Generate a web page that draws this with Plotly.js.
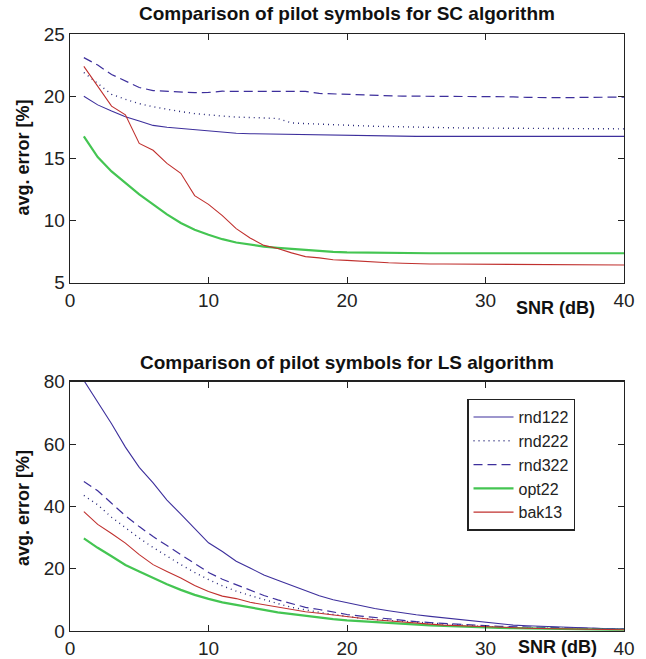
<!DOCTYPE html>
<html><head><meta charset="utf-8">
<script src="https://cdn.plot.ly/plotly-3.0.1.min.js"></script>
<style>html,body{margin:0;padding:0;background:#fff}</style>
</head><body>
<div id="chart" style="width:646px;height:659px"></div>
<script>
// SNR values (dB)
const snr = [1,2,3,4,5,6,7,8,9,10,11,12,13,14,15,16,17,18,19,20,21,22,23,24,25,26,27,28,29,30,31,32,33,34,35,36,37,38,39,40];
const seriesNames = ["rnd122","rnd222","rnd322","opt22","bak13"];

// SC algorithm - avg. error [%]
const rnd122_sc = [20.0,19.3,18.8,18.35,18.0,17.65,17.5,17.4,17.28,17.18,17.08,17.02,16.98,16.96,16.95,16.93,16.88,16.87,16.86,16.85,16.84,16.82,16.78,16.77,16.77,16.77,16.77,16.77,16.77,16.77,16.77,16.77,16.77,16.77,16.77,16.77,16.77,16.77,16.77,16.77];
const rnd222_sc = [21.9,21.0,20.15,19.75,19.4,19.15,18.93,18.76,18.6,18.48,18.4,18.32,18.26,18.25,18.2,17.85,17.8,17.74,17.7,17.65,17.62,17.58,17.55,17.52,17.5,17.48,17.46,17.45,17.44,17.43,17.42,17.41,17.4,17.38,17.37,17.37,17.37,17.37,17.37,17.37];
const rnd322_sc = [23.1,22.5,21.75,21.2,20.7,20.45,20.4,20.35,20.28,20.3,20.4,20.38,20.38,20.38,20.38,20.38,20.38,20.22,20.18,20.15,20.12,20.05,20.0,20.0,20.0,20.0,20.0,20.0,20.0,20.0,19.98,19.95,19.9,19.88,19.87,19.88,19.9,19.9,19.92,19.93];
const opt22_sc = [16.77,15.1,13.95,13.0,12.1,11.3,10.5,9.8,9.25,8.85,8.5,8.23,8.04,7.9,7.8,7.72,7.6,7.53,7.48,7.44,7.42,7.4,7.39,7.38,7.37,7.37,7.37,7.37,7.37,7.37,7.37,7.37,7.37,7.37,7.37,7.37,7.37,7.37,7.37,7.37];
const bak13_sc = [22.4,20.8,19.2,18.5,16.2,15.65,14.6,13.8,12.0,11.3,10.4,9.35,8.6,8.0,7.75,7.4,7.1,7.0,6.85,6.8,6.72,6.65,6.6,6.57,6.52,6.5,6.5,6.49,6.48,6.47,6.46,6.45,6.43,6.42,6.42,6.42,6.42,6.42,6.42,6.42];

// LS algorithm - avg. error [%]
const rnd122_ls = [80.4,73.5,66.5,59,52.5,47.5,42,37.5,33,28.3,25.5,22.4,20.2,18.0,16.3,14.6,12.8,11.3,10.0,9.0,8.0,7.2,6.5,5.8,5.2,4.7,4.2,3.8,3.3,2.8,2.3,1.9,1.7,1.5,1.3,1.1,0.9,0.8,0.7,0.7];
const rnd222_ls = [43.5,40.5,36.5,33,29.8,26.8,24,21.3,18.8,16.5,14.5,12.8,11.4,10.0,8.8,7.6,6.7,6.0,5.3,4.6,4.1,3.7,3.4,3.0,2.7,2.4,2.1,1.9,1.6,1.4,1.2,1.1,1.0,0.9,0.8,0.7,0.6,0.6,0.5,0.5];
const rnd322_ls = [48,45,41,37,33.5,30.3,27.4,24.5,21.5,18.8,16.6,14.8,13.0,11.4,10.0,8.7,7.6,6.9,6.1,5.3,4.8,4.3,3.9,3.4,3.0,2.7,2.4,2.2,1.9,1.7,1.5,1.4,1.2,1.1,1.0,0.9,0.8,0.7,0.6,0.6];
const opt22_ls = [29.7,26.7,24,21.2,19.1,17,15,13.2,11.6,10.3,9.2,8.4,7.5,6.8,6.0,5.4,4.9,4.3,3.8,3.4,3.1,2.8,2.5,2.3,2.0,1.8,1.6,1.4,1.3,1.1,1.0,0.9,0.8,0.7,0.6,0.6,0.5,0.5,0.4,0.4];
const bak13_ls = [38.3,34.2,31.3,28.2,24.5,21.3,19.1,17,14.6,12.7,11.2,10.4,9.2,8.4,7.7,6.9,6.2,5.7,5.1,4.6,4.1,3.6,3.2,2.9,2.5,2.2,1.9,1.7,1.5,1.3,1.1,1.0,0.9,0.8,0.7,0.6,0.6,0.5,0.5,0.4];

const titles = ["Comparison of pilot symbols for SC algorithm","Comparison of pilot symbols for LS algorithm"];
const xLabel = "SNR (dB)";
const yLabel = "avg. error [%]";

const styles = [
  {color:"#3d2f9c", width:1.1, dash:"solid"},
  {color:"#2a2a7a", width:1.4, dash:"1px,4px"},
  {color:"#3d2f9c", width:1.2, dash:"9px,5px"},
  {color:"#44c552", width:2.2, dash:"solid"},
  {color:"#c0302e", width:1.1, dash:"solid"}
];
const scSeries = [rnd122_sc, rnd222_sc, rnd322_sc, opt22_sc, bak13_sc];
const lsSeries = [rnd122_ls, rnd222_ls, rnd322_ls, opt22_ls, bak13_ls];

const traces = [];
scSeries.forEach((s,i)=>traces.push({x:snr,y:s,type:"scatter",mode:"lines",xaxis:"x",yaxis:"y",showlegend:false,line:styles[i],name:seriesNames[i]}));
lsSeries.forEach((s,i)=>traces.push({x:snr,y:s,type:"scatter",mode:"lines",xaxis:"x2",yaxis:"y2",showlegend:true,line:styles[i],name:seriesNames[i]}));

const fam = "Liberation Sans, Arial, sans-serif";
const tickFont = {family:fam, size:19, color:"#222"};
const axBase = {showgrid:false, zeroline:false, showline:true, linecolor:"#222", linewidth:1.3, mirror:"allticks", ticks:"inside", ticklen:6, tickcolor:"#222", tickfont:tickFont};

const titleFont = {family:fam, size:19, color:"#111", weight:"bold"};
const lblFont = {family:fam, size:18, color:"#111", weight:"bold"};
function ann(text, x, y, font, angle){
  return {text:text, xref:"paper", yref:"paper", x:x, y:y, xanchor:"center", yanchor:"middle", showarrow:false, font:font, textangle:angle||0};
}
const layout = {
  width:646, height:659,
  margin:{l:70, r:22, t:34, b:28},
  paper_bgcolor:"#fff", plot_bgcolor:"#fff",
  xaxis:Object.assign({}, axBase, {domain:[0,1], range:[0,40], tickvals:[0,10,20,30,40], anchor:"y"}),
  yaxis:Object.assign({}, axBase, {domain:[0.5834,1], range:[5,25], tickvals:[5,10,15,20,25], anchor:"x"}),
  xaxis2:Object.assign({}, axBase, {domain:[0,1], range:[0,40], tickvals:[0,10,20,30,40], anchor:"y2"}),
  yaxis2:Object.assign({}, axBase, {domain:[0,0.4176], range:[0,80], tickvals:[0,20,40,60,80], anchor:"x2"}),
  showlegend:true,
  legend:{x:0.717, y:0.389, xanchor:"left", yanchor:"top", bgcolor:"#fff", bordercolor:"#222", borderwidth:1.3,
          font:{family:fam, size:16, color:"#222"}, tracegroupgap:0, itemwidth:40},
  annotations:[
    ann(titles[0], 0.5, 1.034, titleFont),
    ann(titles[1], 0.5, 0.449, titleFont),
    ann(xLabel, 0.877, 0.541, lblFont),
    ann(xLabel, 0.880, -0.027, lblFont),
    ann(yLabel, -0.085, 0.793, lblFont, -90),
    ann(yLabel, -0.085, 0.206, lblFont, -90)
  ]
};
Plotly.newPlot("chart", traces, layout, {staticPlot:true, displayModeBar:false});
</script>
</body></html>
